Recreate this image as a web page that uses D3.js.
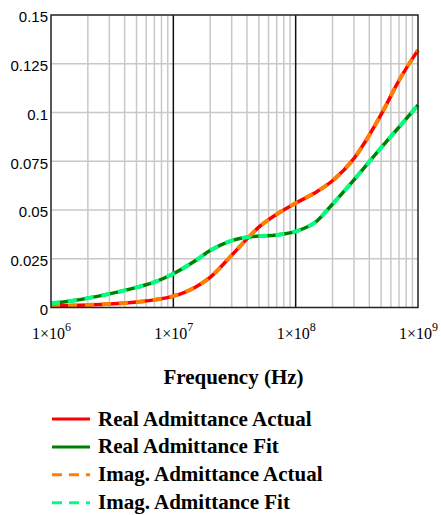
<!DOCTYPE html>
<html>
<head>
<meta charset="utf-8">
<script src="https://cdn.jsdelivr.net/npm/d3@7"></script>
<style>
  html, body { margin: 0; padding: 0; background: #fff; }
  svg { display: block; }
</style>
</head>
<body>
<svg id="chart" width="441" height="515"></svg>
<script>
// Frequency sweep (Hz)
const freq = [1e6, 1.5e6, 2e6, 3e6, 5e6, 7e6, 1e7, 1.5e7, 2e7, 3e7, 4e7, 5e7, 7e7,
              1e8, 1.5e8, 2e8, 3e8, 5e8, 7e8, 1e9];

// Admittance values (S)
const realActual = [0.0008, 0.0010, 0.0013, 0.0018, 0.0028, 0.0039, 0.0058, 0.0103, 0.0155, 0.0268,
                    0.0352, 0.0412, 0.0478, 0.0535, 0.0595, 0.0650, 0.0765, 0.0990, 0.1165, 0.1320];
const realFit    = [0.0021, 0.0035, 0.0048, 0.0070, 0.0103, 0.0130, 0.0173, 0.0238, 0.0292, 0.0343,
                    0.0360, 0.0366, 0.0372, 0.0390, 0.0445, 0.0530, 0.0655, 0.0820, 0.0925, 0.1038];
const imagActual = [0.0008, 0.0010, 0.0013, 0.0018, 0.0028, 0.0039, 0.0058, 0.0103, 0.0155, 0.0268,
                    0.0352, 0.0412, 0.0478, 0.0535, 0.0595, 0.0650, 0.0765, 0.0990, 0.1165, 0.1320];
const imagFit    = [0.0021, 0.0035, 0.0048, 0.0070, 0.0103, 0.0130, 0.0173, 0.0238, 0.0292, 0.0343,
                    0.0360, 0.0366, 0.0372, 0.0390, 0.0445, 0.0530, 0.0655, 0.0820, 0.0925, 0.1038];

// Axis ticks
const yTicks = [0, 0.025, 0.05, 0.075, 0.1, 0.125, 0.15];
const yTickLabels = ["0", "0.025", "0.05", "0.075", "0.1", "0.125", "0.15"];
const xTicks = [1e6, 1e7, 1e8, 1e9];
const xTickExponents = ["6", "7", "8", "9"];

const xTitle = "Frequency (Hz)";
const seriesNames = ["Real Admittance Actual", "Real Admittance Fit",
                     "Imag. Admittance Actual", "Imag. Admittance Fit"];

const series = [
  { name: seriesNames[0], values: realActual, color: "#ff0000", dash: null, width: 3.5 },
  { name: seriesNames[1], values: realFit,    color: "#008000", dash: null, width: 3.5 },
  { name: seriesNames[2], values: imagActual, color: "#ff8000", dash: "9,8", width: 4 },
  { name: seriesNames[3], values: imagFit,    color: "#00ff80", dash: "9,8", width: 4 }
];

const plot = { left: 51, right: 418, top: 15, bottom: 307.5 };
const svg = d3.select("#chart");

const x = d3.scaleLog().domain([1e6, 1e9]).range([plot.left, plot.right]);
const y = d3.scaleLinear().domain([0, 0.15]).range([plot.bottom, plot.top]);

// Grid: minor log lines (gray), decade lines (black), horizontal value lines (gray)
const minor = [];
for (let d = 1e6; d < 1e9; d *= 10) {
  for (let k = 2; k <= 9; k++) minor.push(d * k);
}
const grid = svg.append("g");
grid.selectAll("line.minor").data(minor).join("line")
  .attr("x1", d => x(d)).attr("x2", d => x(d))
  .attr("y1", plot.top).attr("y2", plot.bottom)
  .attr("stroke", "#c8c8c8").attr("stroke-width", 1.5);
grid.selectAll("line.h").data(yTicks.slice(1, -1)).join("line")
  .attr("x1", plot.left).attr("x2", plot.right)
  .attr("y1", d => y(d)).attr("y2", d => y(d))
  .attr("stroke", "#c8c8c8").attr("stroke-width", 1.5);
grid.selectAll("line.major").data(xTicks.slice(1, -1)).join("line")
  .attr("x1", d => x(d)).attr("x2", d => x(d))
  .attr("y1", plot.top).attr("y2", plot.bottom)
  .attr("stroke", "#111").attr("stroke-width", 1.5);

// Curves
const line = d3.line()
  .x((d, i) => x(freq[i]))
  .y(d => y(d))
  .curve(d3.curveMonotoneX);

series.forEach(s => {
  svg.append("path")
    .attr("d", line(s.values))
    .attr("fill", "none")
    .attr("stroke", s.color)
    .attr("stroke-width", s.width)
    .attr("stroke-dasharray", s.dash)
    .attr("stroke-linejoin", "round");
});

// Frame
svg.append("rect")
  .attr("x", plot.left).attr("y", plot.top)
  .attr("width", plot.right - plot.left).attr("height", plot.bottom - plot.top)
  .attr("fill", "none").attr("stroke", "#222").attr("stroke-width", 1.5);

// Y axis
const yAxis = svg.append("g")
  .attr("transform", `translate(${plot.left},0)`)
  .call(d3.axisLeft(y).tickValues(yTicks).tickSize(0).tickPadding(3)
    .tickFormat((d, i) => yTickLabels[i]));
yAxis.select(".domain").remove();
yAxis.selectAll("text")
  .attr("font-family", "Liberation Sans, Arial, sans-serif")
  .attr("font-size", 15)
  .attr("fill", "#000")
  .attr("dy", "0.45em");

// X axis with 1×10ⁿ labels
const xAxis = svg.append("g")
  .attr("transform", `translate(0,${plot.bottom})`)
  .call(d3.axisBottom(x).tickValues(xTicks).tickSize(0).tickFormat(() => ""));
xAxis.select(".domain").remove();
xAxis.attr("font-size", 16).attr("font-family", "Liberation Serif, Times New Roman, serif");
xAxis.selectAll(".tick text").each(function (d, i) {
  const t = d3.select(this)
    .attr("y", 0).attr("dy", null)
    .attr("transform", "translate(0,31)")
    .attr("font-family", "Liberation Serif, Times New Roman, serif")
    .attr("font-size", 16)
    .attr("fill", "#000")
    .attr("text-anchor", "middle");
  t.text(null);
  t.append("tspan").text("1×10");
  t.append("tspan").attr("dy", -8).attr("font-size", 12).text(xTickExponents[i]);
});

// Axis title
svg.append("text")
  .attr("x", (plot.left + plot.right) / 2 - 1)
  .attr("y", 384)
  .attr("text-anchor", "middle")
  .attr("font-family", "Liberation Serif, Times New Roman, serif")
  .attr("font-weight", "bold")
  .attr("font-size", 21)
  .text(xTitle);

// Legend
const legend = svg.append("g");
series.forEach((s, i) => {
  const ly = 419 + i * 27.9;
  legend.append("line")
    .attr("x1", 52).attr("x2", 90)
    .attr("y1", ly).attr("y2", ly)
    .attr("stroke", s.color)
    .attr("stroke-width", 3)
    .attr("stroke-dasharray", s.dash ? "10,7" : null);
  legend.append("text")
    .attr("x", 98).attr("y", ly + 6.5)
    .attr("font-family", "Liberation Serif, Times New Roman, serif")
    .attr("font-weight", "bold")
    .attr("font-size", 21)
    .text(s.name);
});
</script>
</body>
</html>
